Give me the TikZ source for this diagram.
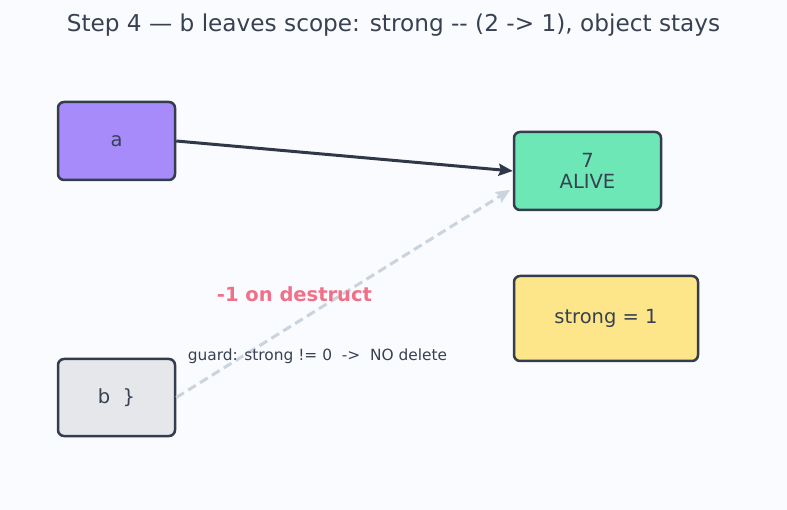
\documentclass[tikz,border=0pt]{standalone}
\usepackage{fontspec}
\setmainfont{DejaVu Sans}
\usetikzlibrary{arrows.meta}
\definecolor{bgpage}{HTML}{FAFBFE}
\definecolor{ink}{HTML}{374151}
\definecolor{edge}{HTML}{343D4D}
\definecolor{wire}{HTML}{2E3848}
\definecolor{ghost}{HTML}{CBD3DD}
\definecolor{violet}{HTML}{A78BFA}
\definecolor{mint}{HTML}{6EE7B7}
\definecolor{sand}{HTML}{FDE68A}
\definecolor{pale}{HTML}{E5E7EB}
\definecolor{rose}{HTML}{F07088}

\begin{document}
\begin{tikzpicture}[x=1pt,y=-1pt,
	box/.style={draw=edge, line width=2.5pt, rounded corners=6pt, inner sep=0pt, align=center, text=ink, font=\fontsize{19.5}{21}\selectfont},
	link/.style={line width=3pt, -{Stealth[length=14pt,width=12pt,inset=2pt]}}]
		\fill[bgpage] (0,0) rectangle (787,510);
		\node[text=ink, font=\fontsize{23.2}{26}\selectfont] (title) at (393.5,25) {Step 4 — b leaves scope: strong -\kern0pt- (2 -> 1), object stays};

		\node[box, fill=violet, minimum width=117pt, minimum height=78pt] (a) at (116.5,141) {a};
		\node[box, fill=mint, minimum width=147pt, minimum height=78pt] (alive) at (587.5,171) {7\\ALIVE};
		\node[box, fill=sand, minimum width=184pt, minimum height=85pt] (count) at (606,318.5) {strong = 1};
		\node[box, fill=pale, minimum width=117pt, minimum height=77pt] (b) at (116.5,397.5) {b\ \ \}};

		\draw[link, wire] (a.east) -- (alive.west);
		\draw[link, ghost, dashed, dash pattern=on 9pt off 5pt, shorten >=3pt] (b.east) -- (alive.193);

		\node[text=rose, font=\bfseries\fontsize{19.5}{22}\selectfont] (minus) at (294.5,294) {-1 on destruct};
		\node[text=ink, font=\fontsize{15.4}{18}\selectfont] (guard) at (317.5,356) {guard: strong != 0\ \ ->\ \ NO delete};
	\end{tikzpicture}
\end{document}
